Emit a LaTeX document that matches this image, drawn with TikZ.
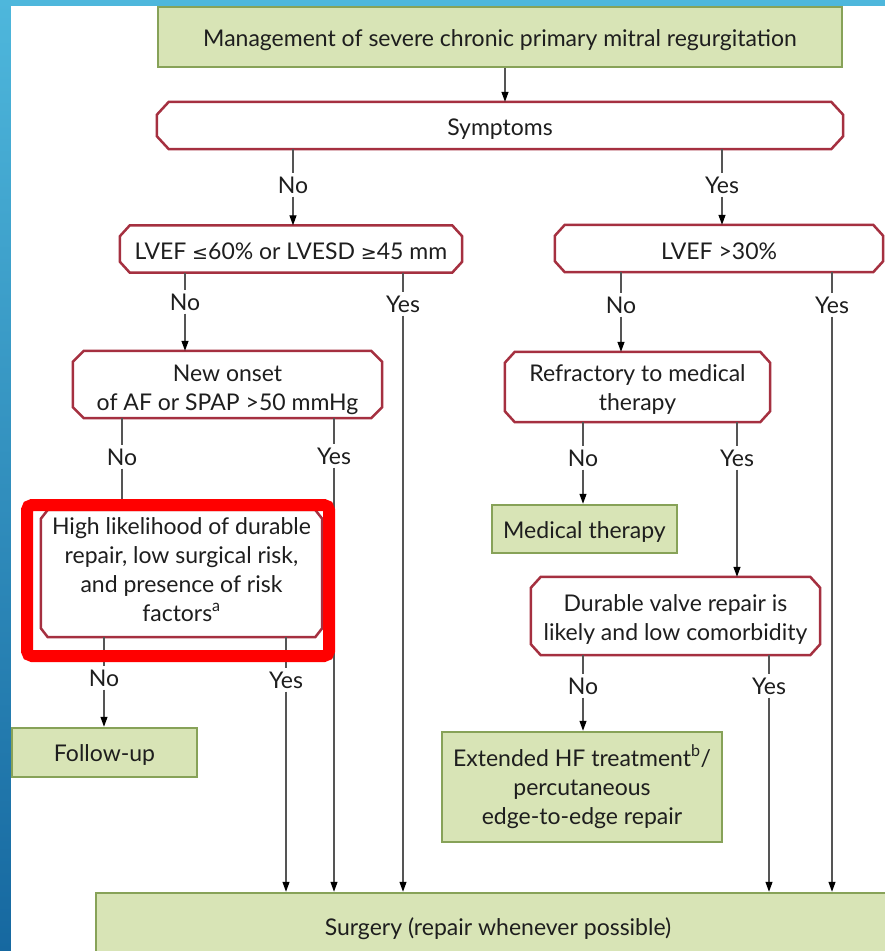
\documentclass[tikz,border=0pt]{standalone}
\usepackage{fontspec}
\setmainfont{Lato}
\newfontfamily\symf{DejaVu Sans}
\usetikzlibrary{arrows.meta}
\definecolor{gfill}{RGB}{216,228,182}
\definecolor{gdraw}{RGB}{135,162,88}
\definecolor{rdraw}{RGB}{165,48,64}
\definecolor{lgray}{RGB}{85,85,85}
\definecolor{blueA}{RGB}{78,183,220}
\definecolor{blueB}{RGB}{22,104,160}
\definecolor{txt}{RGB}{30,30,30}
\newcommand\decoutline[3]{%
  \draw[chamf] ([xshift=#2]#1.north west) -- ([xshift=-#2]#1.north east)
   -- ([yshift=-#3]#1.north east) -- ([yshift=#3]#1.south east)
   -- ([xshift=-#2]#1.south east) -- ([xshift=#2]#1.south west)
   -- ([yshift=#3]#1.south west) -- ([yshift=-#3]#1.north west) -- cycle;}
\newcommand\branch[3]{%
  \draw[conn] (#1.south -| #2) -- (#2);
  \draw[arr] (#2) -- (#3.north -| #2);}
\newcommand\LE{{\symf\fontsize{19}{29}\selectfont ≤}}
\newcommand\GE{{\symf\fontsize{19}{29}\selectfont ≥}}
\begin{document}
\begin{tikzpicture}[x=1pt,y=-1pt,
  font=\fontsize{23}{29}\selectfont,
  vfix/.style 2 args={execute at begin node={\rule{0pt}{#1pt}},
                      execute at end node={\rule[-#2pt]{0pt}{0pt}}},
  greenbox/.style={draw=gdraw, fill=gfill, line width=2.5pt, inner sep=0pt, align=center, text=txt},
  decbox/.style={inner sep=0pt, align=center, text=txt},
  chamf/.style={draw=rdraw, line width=2.5pt, line join=miter},
  lbl/.style={inner sep=3pt, text=txt},
  conn/.style={draw=lgray, line width=1.2pt},
  arr/.style={conn, -{Triangle[length=10pt,width=7pt,color=black]}},
  hilite/.style={draw=red, line width=12pt, rounded corners=5pt}
]
\useasboundingbox (0,0) rectangle (885,951);
\clip (0,0) rectangle (885,951);
\shade[top color=blueA, bottom color=blueB] (0,0) rectangle (885,951);
\fill[white] (11,6) rectangle (885,951);

% boxes
\node[greenbox, vfix={25}{7}, minimum width=684, minimum height=60] (title) at (500,37)
  {Management of severe chronic primary mitral regurgitation};
\node[decbox, vfix={26}{7}, minimum width=686, minimum height=47] (symp) at (500,125.5) {Symptoms};
\node[decbox, vfix={27}{7}, minimum width=342, minimum height=47] (lv60) at (291,249)
  {LVEF \LE60\% or LVESD \GE45 mm};
\node[decbox, vfix={29}{7}, minimum width=328, minimum height=47] (lv30) at (719,248.5) {LVEF >30\%};
\node[decbox, vfix={58}{7}, minimum width=309, minimum height=67] (onset) at (227.5,384.5)
  {New onset\\of AF or SPAP >50 mmHg};
\node[decbox, vfix={53}{7}, minimum width=265, minimum height=70] (refr) at (637.5,387)
  {Refractory to medical\\therapy};
\node[decbox, vfix={110}{15}, minimum width=281, minimum height=127] (high) at (181.5,573.5)
  {High likelihood of durable\\repair, low surgical risk,\\and presence of risk\\factors\textsuperscript{a}};
\node[greenbox, vfix={25}{7}, minimum width=185, minimum height=48] (med) at (584.5,529) {Medical therapy};
\node[decbox, vfix={55}{7}, minimum width=289, minimum height=78] (dur) at (675.5,616)
  {Durable valve repair is\\likely and low comorbidity};
\node[greenbox, vfix={24}{7}, minimum width=185, minimum height=49] (follow) at (104.5,752.5) {Follow-up};
\node[greenbox, vfix={81}{7}, minimum width=280, minimum height=110] (ext) at (582,787)
  {Extended HF treatment\textsuperscript{b}/\\percutaneous\\edge-to-edge repair};
\node[greenbox, vfix={22}{7}, minimum width=804, minimum height=70] (surg) at (498,928)
  {Surgery (repair whenever possible)};

\decoutline{symp}{12pt}{13pt}
\decoutline{lv60}{10pt}{11pt}
\decoutline{lv30}{10pt}{11pt}
\decoutline{onset}{11pt}{11pt}
\decoutline{refr}{10pt}{11pt}
\decoutline{high}{7pt}{9pt}
\decoutline{dur}{10pt}{11pt}

% labels
\node[lbl] (sN) at (293,185) {No};
\node[lbl] (sY) at (722,185) {Yes};
\node[lbl] (aN) at (185,302) {No};
\node[lbl] (aY) at (403,304) {Yes};
\node[lbl] (bN) at (621,305) {No};
\node[lbl] (bY) at (832,305) {Yes};
\node[lbl] (cN) at (122,457) {No};
\node[lbl] (cY) at (334,456) {Yes};
\node[lbl] (dN) at (583,458) {No};
\node[lbl] (dY) at (737,458) {Yes};
\node[lbl] (eN) at (104,678) {No};
\node[lbl] (eY) at (286,680) {Yes};
\node[lbl] (fN) at (583,686) {No};
\node[lbl] (fY) at (769,686) {Yes};

% connectors
\coordinate (t1) at (505,80);
\draw[arr] (title.south -| t1) -- (symp.north -| t1);
\branch{symp}{sN}{lv60}
\branch{symp}{sY}{lv30}
\branch{lv60}{aN}{onset}
\branch{lv60}{aY}{surg}
\branch{lv30}{bN}{refr}
\branch{lv30}{bY}{surg}
\branch{onset}{cN}{high}
\branch{onset}{cY}{surg}
\branch{refr}{dN}{med}
\branch{refr}{dY}{dur}
\branch{high}{eN}{follow}
\branch{high}{eY}{surg}
\branch{dur}{fN}{ext}
\branch{dur}{fY}{surg}

% highlight
\draw[hilite] (27,505) rectangle (329,656);
\end{tikzpicture}
\end{document}
